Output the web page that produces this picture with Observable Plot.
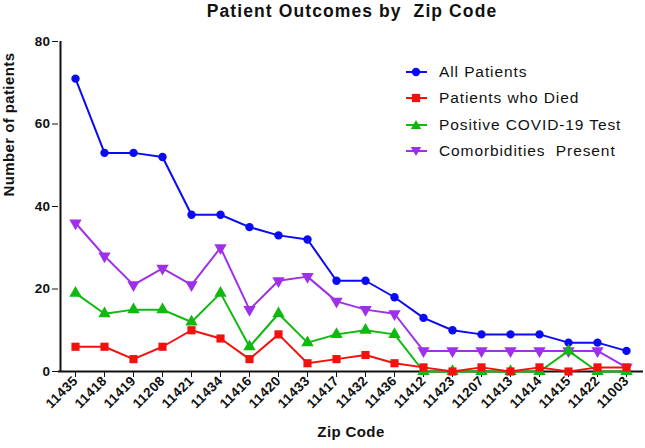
<!DOCTYPE html>
<html>
<head>
<meta charset="utf-8">
<script src="https://cdn.jsdelivr.net/npm/d3@7"></script>
<script src="https://cdn.jsdelivr.net/npm/@observablehq/plot@0.6"></script>
<style>
  html, body { margin: 0; padding: 0; background: #fff; }
  body { font-family: "Liberation Sans", Arial, sans-serif; color: #111; }
  #wrap { position: relative; width: 645px; height: 448px; overflow: hidden; }
  #title { width: 645px; height: 22px; line-height: 22px; box-sizing: border-box; padding-left: 59px;
           text-align: center; font-size: 17.5px; font-weight: bold; letter-spacing: 1.1px; white-space: pre; }
  .lg { position: absolute; left: 400px; height: 26px; display: flex; align-items: center;
        font-size: 15.5px; letter-spacing: 0.9px; white-space: pre; }
  .lg svg { width: 32px; height: 16px; margin-right: 7px; flex: none; }
  #chart svg g[aria-label="x-axis tick label"] text,
  #chart svg g[aria-label="y-axis tick label"] text { font-size: 13.5px; font-weight: bold; }
</style>
</head>
<body>
<div id="wrap">
  <div id="title"></div>
  <div id="chart"></div>
  <div id="legend"></div>
</div>
<script>
const titleText = "Patient Outcomes by  Zip Code";
const xLabel = "Zip Code";
const yLabel = "Number of patients";
const zips = ["11435","11418","11419","11208","11421","11434","11416","11420","11433","11417","11432","11436","11412","11423","11207","11413","11414","11415","11422","11003"];
const allPatients   = [71,53,53,52,38,38,35,33,32,22,22,18,13,10,9,9,9,7,7,5];
const patientsDied  = [6,6,3,6,10,8,3,9,2,3,4,2,1,0,1,0,1,0,1,1];
const positiveTest  = [19,14,15,15,12,19,6,14,7,9,10,9,0,0,0,0,0,5,0,0];
const comorbidities = [36,28,21,25,21,30,15,22,23,17,15,14,5,5,5,5,5,5,5,1];
const seriesNames  = ["All Patients","Patients who Died","Positive COVID-19 Test","Comorbidities  Present"];
const seriesColors = ["#0a0af5","#f51010","#10b810","#a030e8"];
const yTicks = [0,20,40,60,80];

document.getElementById("title").textContent = titleText;

const seriesValues = [allPatients, patientsDied, positiveTest, comorbidities];
const rows = seriesNames.map((name, i) => zips.map((z, j) => ({series: name, zip: z, value: seriesValues[i][j]})));
const [rAll, rDied, rPos, rCom] = rows;

const symbolStyle = [
  {symbol: "circle", r: 4.2, rotate: 0},
  {symbol: "square", r: 4.6, rotate: 0},
  {symbol: "triangle", r: 4.6, rotate: 0},
  {symbol: "triangle", r: 4.6, rotate: 180}
];

function seriesMarks(data, i) {
  return [
    Plot.line(data, {x: "zip", y: "value", stroke: seriesColors[i], strokeWidth: 2}),
    Plot.dot(data, {x: "zip", y: "value", fill: seriesColors[i], stroke: "none",
      symbol: symbolStyle[i].symbol, r: symbolStyle[i].r, rotate: symbolStyle[i].rotate})
  ];
}

const chart = Plot.plot({
  width: 645,
  height: 426,
  marginTop: 19,
  marginBottom: 77,
  marginLeft: 58,
  marginRight: 2,
  style: {fontFamily: "'Liberation Sans', Arial, sans-serif", fontSize: "13.5px", fontWeight: "bold", color: "#111", background: "white", letterSpacing: "0.4px"},
  x: {type: "point", domain: zips, padding: 0.515},
  y: {domain: [0, 80]},
  marks: [
    Plot.axisY({ticks: yTicks, tickSize: 6, tickPadding: 2, fontSize: 13.5, fontWeight: "bold", label: null, stroke: "#111"}),
    Plot.axisX({tickSize: 6, tickPadding: 1, tickRotate: -45, fontSize: 13.5, fontWeight: "bold", label: null, stroke: "#111"}),
    Plot.ruleY([0], {stroke: "#111", strokeWidth: 2}),
    Plot.ruleX([zips[0]], {dx: -15, stroke: "#111", strokeWidth: 2}),
    ...seriesMarks(rCom, 3),
    ...seriesMarks(rAll, 0),
    ...seriesMarks(rPos, 2),
    ...seriesMarks(rDied, 1),
    Plot.text([xLabel], {frameAnchor: "bottom", dy: 65, fontSize: 15, fontWeight: "bold", fill: "#111"}),
    Plot.text([yLabel], {frameAnchor: "left", dx: -49, dy: -10, rotate: -90, fontSize: 15, fontWeight: "bold", fill: "#111"})
  ]
});
document.getElementById("chart").appendChild(chart);

// Legend
const legend = document.getElementById("legend");
const rowCenters = [72, 98, 125, 151];
const shapes = [
  '<circle cx="16" cy="8" r="4.2"/>',
  '<rect x="11.9" y="3.9" width="8.2" height="8.2"/>',
  '<polygon points="16,3 21.2,12 10.8,12"/>',
  '<polygon points="16,13 21.2,4 10.8,4"/>'
];
seriesNames.forEach((name, i) => {
  const row = document.createElement("div");
  row.className = "lg";
  row.style.top = (rowCenters[i] - 13) + "px";
  row.innerHTML = `<svg viewBox="0 0 32 16"><line x1="6" x2="27" y1="8" y2="8" stroke="${seriesColors[i]}" stroke-width="2"/><g fill="${seriesColors[i]}">${shapes[i]}</g></svg><span></span>`;
  row.querySelector("span").textContent = name;
  legend.appendChild(row);
});
</script>
</body>
</html>
